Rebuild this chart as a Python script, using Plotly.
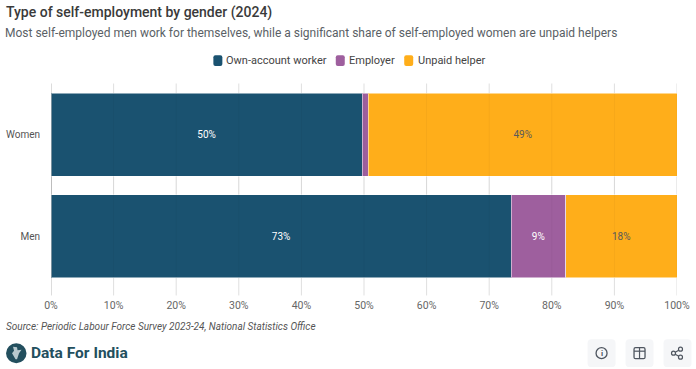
import plotly.graph_objects as go

categories = ["Men", "Women"]
series_names = ["Own-account worker", "Employer", "Unpaid helper"]
own_account = [73.5, 49.7]
employer = [8.7, 1.0]
unpaid = [17.8, 49.3]
own_labels = ["73%", "50%"]
employer_labels = ["9%", ""]
unpaid_labels = ["18%", "49%"]
colors = ["#1a5270", "#9e5f9e", "#ffae1a"]
label_colors = ["#ffffff", "#ffffff", "#5a5a5a"]
tick_vals = [0, 10, 20, 30, 40, 50, 60, 70, 80, 90, 100]
tick_text = ["0%", "10%", "20%", "30%", "40%", "50%", "60%", "70%", "80%", "90%", "100%"]

W, H = 696, 369
FONT = "Roboto"
L, R, T, B = 51.0, 677.5, 83.5, 287.5


def px(x):
    return (x - L) / (R - L)


def py(y):
    return (B - y) / (B - T)


def rrect(x0, y0, x1, y1, r):
    return (f"M{px(x0+r)},{py(y0)} L{px(x1-r)},{py(y0)} Q{px(x1)},{py(y0)} {px(x1)},{py(y0+r)} "
            f"L{px(x1)},{py(y1-r)} Q{px(x1)},{py(y1)} {px(x1-r)},{py(y1)} "
            f"L{px(x0+r)},{py(y1)} Q{px(x0)},{py(y1)} {px(x0)},{py(y1-r)} "
            f"L{px(x0)},{py(y0+r)} Q{px(x0)},{py(y0)} {px(x0+r)},{py(y0)} Z")


fig = go.Figure()
for name, vals, labs, col, lc in zip(series_names, [own_account, employer, unpaid],
                                     [own_labels, employer_labels, unpaid_labels], colors, label_colors):
    fig.add_trace(go.Bar(
        y=categories, x=vals, name=name, orientation="h", text=labs,
        textposition="inside", insidetextanchor="middle", textangle=0,
        textfont=dict(family=FONT, size=10, color=lc),
        marker=dict(color=col, line=dict(color="rgba(255,255,255,0.5)", width=1)),
        hoverinfo="skip", showlegend=False, cliponaxis=False,
    ))

shapes = []
for t in tick_vals:
    shapes.append(dict(type="line", xref="x", yref="paper", x0=t, x1=t,
                       y0=py(296), y1=py(83), layer="below",
                       line=dict(color="rgba(0,0,0,0.28)" if t == 0 else "rgba(0,0,0,0.13)", width=1)))
    shapes.append(dict(type="line", xref="x", yref="paper", x0=t, x1=t,
                       y0=py(278), y1=py(93), layer="above",
                       line=dict(color="rgba(0,0,0,0.28)" if t == 0 else "rgba(0,0,0,0.035)", width=1)))

annotations = []


def text(x, y, s, size, color, anchor="left", weight=None, style=None):
    annotations.append(dict(
        xref="paper", yref="paper", x=px(x), y=py(y), text=s, showarrow=False,
        xanchor=anchor, yanchor="middle", align=anchor,
        font=dict(family=FONT, size=size, color=color, weight=weight or 400, style=style or "normal"),
        borderpad=0, borderwidth=0,
    ))


text(6, 12, "Type of self-employment by gender (2024)", 14, "#3a3a3a", weight=500)
text(5, 32.5, "Most self-employed men work for themselves, while a significant share of self-employed women are unpaid helpers",
     12, "#5a5f66")
text(6, 327, "Source: Periodic Labour Force Survey 2023-24, National Statistics Office", 10, "#555555", style="italic")
text(31, 354, "Data For India", 15.5, "#234f5e", weight=700)

# legend
for x0, x_t, name, col in zip([213.5, 336, 404.5], [226, 349.5, 418.5], series_names, colors):
    shapes.append(dict(type="path", path=rrect(x0, 54.5, x0 + 9, 65.5, 2), xref="paper", yref="paper",
                       fillcolor=col, line=dict(width=0)))
    text(x_t, 60, name, 11, "#444444")

# logo
shapes.append(dict(type="circle", xref="paper", yref="paper", x0=px(6), x1=px(26.5), y0=py(364), y1=py(344),
                   fillcolor="#234f5e", line=dict(width=0)))
glyph = [(13, 347.5), (17, 348), (17.5, 351), (21.5, 350.5), (19, 354), (17, 360), (15.5, 360), (12, 354), (14, 351.5)]
shapes.append(dict(type="path", xref="paper", yref="paper", fillcolor="#b8c9ce", line=dict(width=0),
                   path="M" + " L".join(f"{px(a)},{py(b)}" for a, b in glyph) + " Z"))

# buttons
for x0 in [588, 626, 664]:
    shapes.append(dict(type="path", path=rrect(x0, 340, x0 + 28, 368, 4), xref="paper", yref="paper",
                       fillcolor="#f5f6f8", line=dict(width=0)))
shapes.append(dict(type="circle", xref="paper", yref="paper", x0=px(596.5), x1=px(607.5), y0=py(359.5), y1=py(348.5),
                   line=dict(color="#4f5660", width=1.3)))
text(602, 354, "i", 8, "#4f5660", anchor="center", weight=700)
shapes.append(dict(type="path", path=rrect(634.5, 348.5, 645.5, 359.5, 1.5), xref="paper", yref="paper",
                   line=dict(color="#4f5660", width=1.3)))
for p in [((634.5, 352), (645.5, 352)), ((640, 348.5), (640, 359.5))]:
    shapes.append(dict(type="line", xref="paper", yref="paper", x0=px(p[0][0]), y0=py(p[0][1]),
                       x1=px(p[1][0]), y1=py(p[1][1]), line=dict(color="#4f5660", width=1.2)))
for a, b in [((674, 354), (681, 350)), ((674, 354), (681, 358))]:
    shapes.append(dict(type="line", xref="paper", yref="paper", x0=px(a[0]), y0=py(a[1]), x1=px(b[0]), y1=py(b[1]),
                       line=dict(color="#4f5660", width=1.2)))
for cx, cy in [(674, 354), (681, 350), (681, 358)]:
    shapes.append(dict(type="circle", xref="paper", yref="paper", x0=px(cx - 2), x1=px(cx + 2), y0=py(cy + 2), y1=py(cy - 2),
                       fillcolor="#f5f6f8", line=dict(color="#4f5660", width=1.2)))

fig.update_layout(
    width=W, height=H, autosize=False,
    paper_bgcolor="white", plot_bgcolor="white",
    barmode="stack", bargap=0.186,
    margin=dict(l=L, r=W - R, t=T, b=H - B, pad=0, autoexpand=False),
    font=dict(family=FONT, size=11, color="#555555"),
    xaxis=dict(range=[0, 100], tickvals=tick_vals, ticktext=tick_text, showgrid=False, zeroline=False,
               ticks="outside", ticklen=8, tickcolor="rgba(0,0,0,0)", tickfont=dict(family=FONT, size=10.5, color="#666666"),
               showline=False, automargin=False),
    yaxis=dict(showgrid=False, zeroline=False, ticks="outside", ticklen=8, tickcolor="rgba(0,0,0,0)",
               tickfont=dict(family=FONT, size=10, color="#555555"), categoryorder="array",
               categoryarray=categories, automargin=False),
    shapes=shapes, annotations=annotations,
)
fig.write_html("out.html", config=dict(displayModeBar=False),
               post_script="document.body.style.margin='0';document.documentElement.style.overflow='hidden';")
